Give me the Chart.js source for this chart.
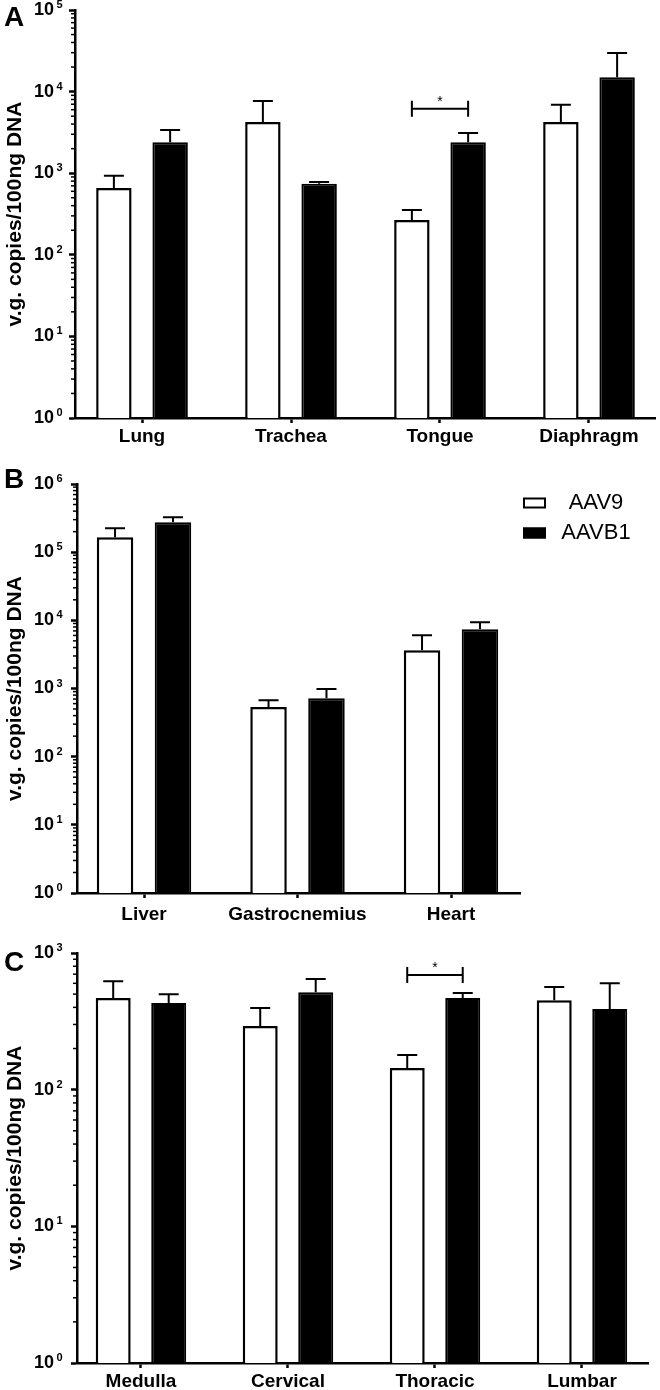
<!DOCTYPE html>
<html>
<head>
<meta charset="utf-8">
<script src="https://cdn.jsdelivr.net/npm/chart.js@4.4.0/dist/chart.umd.min.js"></script>
<style>
  body { margin: 0; background: #fff; }
  #wrap { position: relative; width: 660px; height: 1390px; }
  canvas { position: absolute; left: 0; }
  .tag { position: absolute; left: 4px; font: bold 28px "Liberation Sans", Arial, sans-serif; line-height: 1; }
</style>
</head>
<body>
<div id="wrap">
  <canvas id="chartA" width="660" height="455" style="top:0"></canvas>
  <canvas id="chartB" width="660" height="465" style="top:460px"></canvas>
  <canvas id="chartC" width="660" height="465" style="top:925px"></canvas>
  <div class="tag" style="top:3px">A</div>
  <div class="tag" style="top:465px">B</div>
  <div class="tag" style="top:948px">C</div>
</div>
<script>
// values (mean and upper error)
const seriesNames = ['AAV9', 'AAVB1'];

const catsA = ['Lung', 'Trachea', 'Tongue', 'Diaphragm'];
const aav9A = [660, 4250, 267, 4250];
const aav9ErrA = [270, 3400, 88, 2650];
const aavb1A = [2400, 740, 2400, 15000];
const aavb1ErrA = [990, 40, 700, 14700];
const sigA = [2, 6150];

const catsB = ['Liver', 'Gastrocnemius', 'Heart'];
const aav9B = [166000, 535, 3650];
const aav9ErrB = [59000, 140, 2400];
const aavb1B = [275000, 720, 7400];
const aavb1ErrB = [50000, 260, 2000];

const catsC = ['Medulla', 'Cervical', 'Thoracic', 'Lumbar'];
const aav9C = [468, 292, 144, 452];
const aav9ErrC = [152, 104, 35, 113];
const aavb1C = [430, 517, 468, 389];
const aavb1ErrC = [70, 128, 42, 211];
const sigC = [2, 690];

const yTitle = 'v.g. copies/100ng DNA';
const FONT = '"Liberation Sans", Arial, sans-serif';

Chart.defaults.font.family = FONT;
Chart.defaults.color = '#000';

const errorBars = {
  id: 'errorBars',
  afterDatasetsDraw(chart) {
    const ctx = chart.ctx, y = chart.scales.y;
    ctx.save();
    ctx.strokeStyle = '#000';
    ctx.lineWidth = 2;
    chart.data.datasets.forEach((ds, di) => {
      chart.getDatasetMeta(di).data.forEach((bar, i) => {
        const top = y.getPixelForValue(ds.data[i].y + ds.errors[i]);
        ctx.beginPath();
        ctx.moveTo(bar.x, bar.y);
        ctx.lineTo(bar.x, top);
        ctx.moveTo(bar.x - 10, top);
        ctx.lineTo(bar.x + 10, top);
        ctx.stroke();
      });
    });
    ctx.restore();
  }
};

// minor log ticks and the raised exponents of the y labels
const logAxis = {
  id: 'logAxis',
  afterDraw(chart) {
    const ctx = chart.ctx, y = chart.scales.y, x0 = chart.chartArea.left;
    ctx.save();
    ctx.strokeStyle = '#000';
    ctx.lineWidth = 1.5;
    for (let d = y.min; d < y.max; d *= 10) {
      for (let m = 2; m <= 9; m++) {
        const py = y.getPixelForValue(m * d);
        ctx.beginPath();
        ctx.moveTo(x0 - 4, py);
        ctx.lineTo(x0, py);
        ctx.stroke();
      }
    }
    ctx.fillStyle = '#000';
    ctx.font = 'bold 11px ' + FONT;
    ctx.textAlign = 'left';
    ctx.textBaseline = 'middle';
    const lx = x0 - 6 - y.options.ticks.padding + 2.5;
    y.ticks.forEach(t => {
      ctx.fillText(String(Math.round(Math.log10(t.value))), lx, y.getPixelForValue(t.value) - 5);
    });
    ctx.restore();
  }
};

const sigBracket = {
  id: 'sigBracket',
  afterDraw(chart, args, opts) {
    if (!opts.at) return;
    const [idx, val] = opts.at;
    const ctx = chart.ctx;
    const x1 = chart.getDatasetMeta(0).data[idx].x;
    const x2 = chart.getDatasetMeta(1).data[idx].x;
    const py = chart.scales.y.getPixelForValue(val);
    ctx.save();
    ctx.strokeStyle = '#000';
    ctx.lineWidth = 2;
    ctx.beginPath();
    ctx.moveTo(x1, py); ctx.lineTo(x2, py);
    ctx.moveTo(x1, py - 8); ctx.lineTo(x1, py + 8);
    ctx.moveTo(x2, py - 8); ctx.lineTo(x2, py + 8);
    ctx.stroke();
    ctx.fillStyle = '#000';
    ctx.font = '14px ' + FONT;
    ctx.textAlign = 'center';
    ctx.textBaseline = 'middle';
    ctx.fillText('*', (x1 + x2) / 2, py - 7);
    ctx.restore();
  }
};

const boxLegend = {
  id: 'boxLegend',
  afterDraw(chart, args, opts) {
    if (!opts.show) return;
    const ctx = chart.ctx;
    ctx.save();
    ctx.font = '22px ' + FONT;
    ctx.textAlign = 'center';
    ctx.textBaseline = 'middle';
    chart.data.datasets.forEach((ds, i) => {
      const cy = 43 + i * 30;
      ctx.fillStyle = ds.backgroundColor;
      ctx.fillRect(523, cy - 5.5, 23, 11);
      ctx.strokeStyle = '#000';
      ctx.lineWidth = 2;
      ctx.strokeRect(524, cy - 4.5, 21, 9);
      ctx.fillStyle = '#000';
      ctx.fillText(ds.label, 596, cy);
    });
    ctx.restore();
  }
};

function makePanel(id, cats, s1, e1, s2, e2, yMax, xRange, box, sig, legend) {
  const toXY = arr => arr.map((v, i) => ({ x: i, y: v }));
  const decades = [];
  for (let v = 1; v <= yMax; v *= 10) decades.push(v);
  return new Chart(document.getElementById(id), {
    type: 'bar',
    data: {
      datasets: [
        { label: seriesNames[0], data: toXY(s1), errors: e1, backgroundColor: '#fff', borderColor: '#000', borderWidth: 2.5 },
        { label: seriesNames[1], data: toXY(s2), errors: e2, backgroundColor: '#000', borderColor: '#000', borderWidth: 2 }
      ]
    },
    options: {
      responsive: false,
      animation: false,
      devicePixelRatio: 1,
      categoryPercentage: 0.755,
      barPercentage: 0.63,
      layout: { padding: { top: box.top, right: box.right, left: 0, bottom: 0 } },
      plugins: {
        legend: { display: false },
        tooltip: { enabled: false },
        sigBracket: { at: sig },
        boxLegend: { show: legend }
      },
      scales: {
        x: {
          type: 'linear',
          min: xRange[0],
          max: xRange[1],
          offset: false,
          afterBuildTicks: s => { s.ticks = cats.map((c, i) => ({ value: i })); },
          afterFit: s => { s.height = box.xh; s.paddingLeft = 0; s.paddingRight = 0; },
          ticks: {
            callback: v => cats[v],
            font: { size: 19, weight: 'bold' },
            padding: box.lp,
            maxRotation: 0,
            autoSkip: false
          },
          grid: { display: true, offset: false, drawOnChartArea: false, tickLength: 5, tickWidth: 2.5, tickColor: '#000' },
          border: { color: '#000', width: 2.5 }
        },
        y: {
          type: 'logarithmic',
          min: 1,
          max: yMax,
          afterBuildTicks: s => { s.ticks = decades.map(v => ({ value: v, major: true })); },
          afterFit: s => { s.width = box.left; s.paddingTop = 0; s.paddingBottom = 0; },
          ticks: {
            callback: () => '10',
            font: { size: 18, weight: 'bold' },
            padding: box.left - 75 + 15,
            autoSkip: false
          },
          title: {
            display: true,
            text: yTitle,
            font: { size: 21, weight: 'bold' },
            padding: { top: 3, bottom: 0 }
          },
          grid: { display: true, drawOnChartArea: false, tickLength: 6, tickWidth: 2.5, tickColor: '#000' },
          border: { color: '#000', width: 2.5 }
        }
      }
    },
    plugins: [errorBars, logAxis, sigBracket, boxLegend]
  });
}

makePanel('chartA', catsA, aav9A, aav9ErrA, aavb1A, aavb1ErrA, 1e5, [-0.4497, 3.443],
  { top: 10, right: 5, left: 75, xh: 37, lp: 2 }, sigA, false);
makePanel('chartB', catsB, aav9B, aav9ErrB, aavb1B, aavb1ErrB, 1e6, [-0.4365, 2.4495],
  { top: 24, right: 140, left: 77, xh: 32, lp: 5 }, null, true);
makePanel('chartC', catsC, aav9C, aav9ErrC, aavb1C, aavb1ErrC, 1e3, [-0.435, 3.449],
  { top: 28, right: 12, left: 77, xh: 27, lp: 2 }, sigC, false);
</script>
</body>
</html>
